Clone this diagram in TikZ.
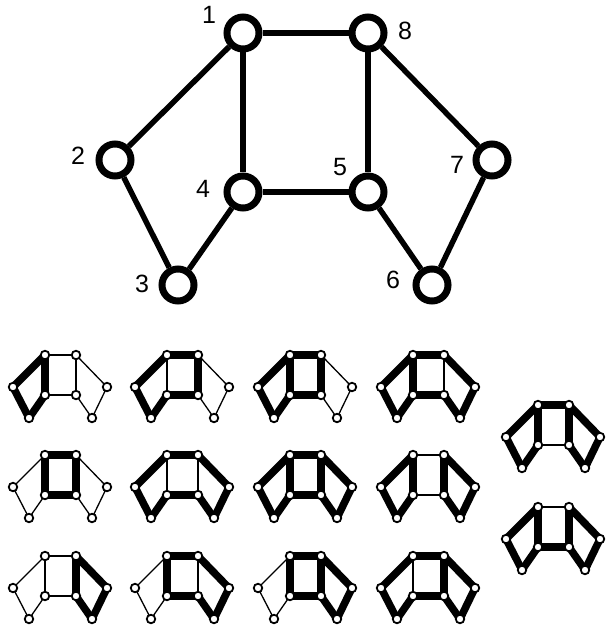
\documentclass[tikz,border=0pt]{standalone}
\usepackage{fontspec}
\setmainfont{Liberation Sans}
\usepackage{tikz}
\usetikzlibrary{positioning}

\tikzset{
  bigv/.style={circle, draw, fill=white, line width=7pt, minimum size=32pt, inner sep=0pt},
  bigedge/.style={line width=5.5pt},
  smv/.style={circle, draw, fill=white, line width=1.8pt, minimum size=8.5pt, inner sep=0pt},
  thinedge/.style={line width=1.3pt},
  fatedge/.style={line width=7.5pt, line cap=round},
  lab/.style={font=\fontsize{25}{27}\selectfont, inner sep=0pt}
}

% kleiner Graph: x, y, Name, dicke Kanten
\newcommand{\kgraph}[4]{%
  \begin{scope}[shift={(#1,#2)}, name prefix=#3-]
    \foreach \n/\px/\py in {1/0/0, 8/31/0, 2/-32/32, 4/0/40, 5/31/40, 7/62/32, 3/-16/63, 6/47/63}
      \coordinate (p\n) at (\px,\py);
    \foreach \a/\b in {1/8, 1/2, 1/4, 8/5, 8/7, 2/3, 3/4, 4/5, 5/6, 6/7}
      \draw[thinedge] (p\a) -- (p\b);
    \foreach \a/\b in {#4}
      \draw[fatedge] (p\a) -- (p\b);
    \foreach \n in {1,...,8}
      \node[smv] (k\n) at (p\n) {};
  \end{scope}}

\begin{document}
\begin{tikzpicture}[x=1pt, y=-1pt]
	\useasboundingbox (0,0) rectangle (607,628);
	
	% grosser Graph
	\node[bigv] (v1) at (243,33) {};
	\node[bigv] (v8) at (368,33) {};
	\node[bigv] (v2) at (115,160) {};
	\node[bigv] (v7) at (492,160) {};
	\node[bigv] (v4) at (243,192) {};
	\node[bigv] (v5) at (368,192) {};
	\node[bigv] (v3) at (178,285) {};
	\node[bigv] (v6) at (432,285) {};
	
	\foreach \a/\b in {1/8, 1/2, 1/4, 8/5, 8/7, 2/3, 3/4, 4/5, 5/6, 6/7}
	\draw[bigedge] (v\a) -- (v\b);
	
	% Beschriftung
	\node[lab] (l1) at (209,15) {1};
	\node[lab] (l8) at (405,31) {8};
	\node[lab] (l2) at (78,156) {2};
	\node[lab] (l4) at (203,189) {4};
	\node[lab] (l5) at (340,167) {5};
	\node[lab] (l7) at (457,165) {7};
	\node[lab] (l3) at (142,284) {3};
	\node[lab] (l6) at (393,280) {6};
	
	% erste Reihe
	\kgraph{45}{355}{a}{1/2, 2/3, 3/4, 1/4}
	\kgraph{167}{355}{b}{1/8, 1/2, 2/3, 3/4, 4/5, 8/5}
	\kgraph{290}{355}{c}{1/8, 1/2, 2/3, 3/4, 1/4, 4/5, 8/5}
	\kgraph{413}{355}{d}{1/8, 1/2, 2/3, 3/4, 1/4, 4/5, 5/6, 6/7, 8/7}
	
	% zweite Reihe
	\kgraph{45}{455}{e}{1/8, 1/4, 4/5, 8/5}
	\kgraph{167}{455}{f}{1/8, 1/2, 2/3, 3/4, 4/5, 5/6, 6/7, 8/7}
	\kgraph{290}{455}{g}{1/8, 1/2, 1/4, 8/5, 8/7, 2/3, 3/4, 4/5, 5/6, 6/7}
	\kgraph{413}{455}{h}{1/2, 2/3, 3/4, 1/4, 8/5, 8/7, 5/6, 6/7}
	
	% dritte Reihe
	\kgraph{45}{556}{i}{8/5, 8/7, 5/6, 6/7}
	\kgraph{167}{556}{j}{1/8, 1/4, 4/5, 5/6, 6/7, 8/7}
	\kgraph{290}{556}{k}{1/8, 1/4, 4/5, 8/5, 5/6, 6/7, 8/7}
	\kgraph{413}{556}{l}{1/8, 1/2, 2/3, 3/4, 4/5, 8/5, 5/6, 6/7, 8/7}
	
	% rechte Spalte
	\kgraph{538}{405}{m}{1/8, 1/2, 2/3, 3/4, 1/4, 8/5, 5/6, 6/7, 8/7}
	\kgraph{538}{507}{n}{4/5, 1/2, 2/3, 3/4, 1/4, 8/5, 5/6, 6/7, 8/7}
\end{tikzpicture}
\end{document}
